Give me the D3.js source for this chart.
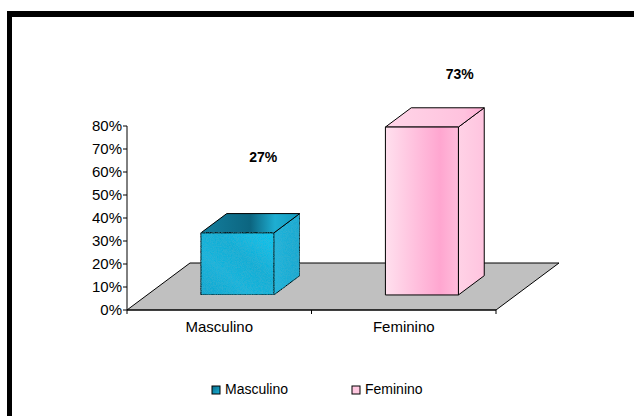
<!DOCTYPE html>
<html>
<head>
<meta charset="utf-8">
<script src="https://cdn.jsdelivr.net/npm/d3@7"></script>
<style>
  body { margin: 0; background: #fff; }
  svg { display: block; font-family: "Liberation Sans", Arial, sans-serif; }
</style>
</head>
<body>
<div id="chart"></div>
<script>
var categories = ["Masculino", "Feminino"]
var values = [0.27, 0.73]
var yTicks = [0, 0.1, 0.2, 0.3, 0.4, 0.5, 0.6, 0.7, 0.8]

var width = 634, height = 416

var svg = d3.select("#chart").append("svg")
  .attr("width", width)
  .attr("height", height)

// frame (only top and left edges show)
svg.append("rect").attr("x", 7).attr("y", 11).attr("width", width - 7).attr("height", 6).attr("fill", "#000")
svg.append("rect").attr("x", 7).attr("y", 11).attr("width", 5).attr("height", height - 11).attr("fill", "#000")

var defs = svg.append("defs")

function grad(id, x1, y1, x2, y2, stops) {
  var g = defs.append("linearGradient").attr("id", id)
    .attr("x1", x1).attr("y1", y1).attr("x2", x2).attr("y2", y2)
  stops.forEach(s => g.append("stop").attr("offset", s[0]).attr("stop-color", s[1]))
}

grad("mFront", "0%", "100%", "100%", "0%", [[0, "#18a6cf"], [0.35, "#1ab4dc"], [0.6, "#15aed6"], [1, "#10c6f0"]])
grad("mTop", "0%", "0%", "100%", "0%", [[0, "#147f9e"], [0.5, "#0c6580"], [0.75, "#1eaed2"], [1, "#1299bd"]])
grad("mSide", "0%", "0%", "100%", "0%", [[0, "#22b4dc"], [1, "#1aa8d0"]])
grad("fFront", "0%", "0%", "100%", "0%", [[0, "#ffe0ee"], [0.75, "#ffa6d0"], [1, "#ffbcdb"]])
grad("fTop", "0%", "0%", "100%", "0%", [[0, "#ffd6e8"], [0.8, "#ffc2de"], [1, "#ffa9d2"]])
grad("fSide", "0%", "0%", "100%", "0%", [[0, "#ffd2e6"], [1, "#ffc4df"]])
grad("mLeg", "0%", "0%", "100%", "100%", [[0, "#0a6a86"], [1, "#19b3da"]])

// light speckle texture for the masculino box
var noise = defs.append("filter").attr("id", "speck").attr("x", 0).attr("y", 0).attr("width", 1).attr("height", 1)
noise.append("feTurbulence").attr("type", "fractalNoise").attr("baseFrequency", 1.2).attr("numOctaves", 1).attr("result", "n")
noise.append("feColorMatrix").attr("in", "n").attr("type", "matrix")
  .attr("values", "0 0 0 0 0.05  0 0 0 0 0.45  0 0 0 0 0.6  0 0 0 -1.2 0.75").attr("result", "dots")
noise.append("feComposite").attr("in", "dots").attr("in2", "SourceGraphic").attr("operator", "in").attr("result", "d2")
noise.append("feMerge").call(m => {
  m.append("feMergeNode").attr("in", "SourceGraphic")
  m.append("feMergeNode").attr("in", "d2")
})

var x = d3.scaleBand()
  .domain(categories)
  .range([127, 496])

var y = d3.scaleLinear()
  .domain([0, 0.8])
  .range([310, 126])

// depth of the floor
var depthX = 63, depthY = -47
var front = 0.32, back = 0.73
var barW = 73
// where the value labels sit, relative to the band centre and bar top
var labelShift = [[44, -86], [56, -63]]

function pt(px, f, v) {
  return [px + f * depthX, y(v) + f * depthY]
}

function poly(points) {
  return "M" + points.map(p => p.join(",")).join("L") + "Z"
}

// floor
svg.append("path")
  .attr("d", poly([pt(x.range()[0], 0, 0), pt(x.range()[0], 1, 0), pt(x.range()[1], 1, 0), pt(x.range()[1], 0, 0)]))
  .attr("fill", "#c0c0c0")
  .attr("stroke", "#000")
  .attr("stroke-width", 1)

// y axis
var yAxis = svg.append("g")
yAxis.append("line")
  .attr("x1", 127).attr("x2", 127)
  .attr("y1", y(0.8)).attr("y2", y(0))
  .attr("stroke", "#000")
yAxis.selectAll("g")
  .data(yTicks)
  .join("g")
  .call(g => g.append("line")
    .attr("x1", 123).attr("x2", 127)
    .attr("y1", d => y(d)).attr("y2", d => y(d))
    .attr("stroke", "#000"))
  .call(g => g.append("text")
    .attr("x", 122)
    .attr("y", d => y(d))
    .attr("dy", "0.35em")
    .attr("text-anchor", "end")
    .attr("font-size", 15)
    .text(d => d3.format(".0%")(d)))

// x axis
svg.append("line")
  .attr("x1", x.range()[0]).attr("x2", x.range()[1])
  .attr("y1", y(0)).attr("y2", y(0))
  .attr("stroke", "#000")
svg.selectAll(".xtick")
  .data([x.range()[0], x.range()[0] + x.bandwidth(), x.range()[1]])
  .join("line")
  .attr("class", "xtick")
  .attr("x1", d => d).attr("x2", d => d)
  .attr("y1", y(0)).attr("y2", y(0) + 4)
  .attr("stroke", "#000")
svg.selectAll(".xlab")
  .data(categories)
  .join("text")
  .attr("class", "xlab")
  .attr("x", d => x(d) + x.bandwidth() / 2)
  .attr("y", 332)
  .attr("text-anchor", "middle")
  .attr("font-size", 15)
  .text(d => d)

// bars
var fills = [
  {front: "url(#mFront)", top: "url(#mTop)", side: "url(#mSide)", filter: "url(#speck)"},
  {front: "url(#fFront)", top: "url(#fTop)", side: "url(#fSide)", filter: null}
]

categories.forEach((c, i) => {
  var v = values[i]
  var cx = x(c) + x.bandwidth() / 2
  var x0 = cx - barW / 2 - 2, x1 = x0 + barW
  var g = svg.append("g")
  g.append("path")
    .attr("d", poly([pt(x1, front, 0), pt(x1, back, 0), pt(x1, back, v), pt(x1, front, v)]))
    .attr("fill", fills[i].side)
    .attr("filter", fills[i].filter)
    .attr("stroke", "#000")
  g.append("path")
    .attr("d", poly([pt(x0, front, v), pt(x0, back, v), pt(x1, back, v), pt(x1, front, v)]))
    .attr("fill", fills[i].top)
    .attr("stroke", "#000")
  g.append("path")
    .attr("d", poly([pt(x0, front, 0), pt(x0, front, v), pt(x1, front, v), pt(x1, front, 0)]))
    .attr("fill", fills[i].front)
    .attr("filter", fills[i].filter)
    .attr("stroke", "#000")
  g.selectAll("path").attr("stroke-linejoin", "round")
  g.append("text")
    .attr("x", cx + labelShift[i][0])
    .attr("y", y(v) + labelShift[i][1])
    .attr("text-anchor", "middle")
    .attr("font-size", 14)
    .attr("font-weight", "bold")
    .text(d3.format(".0%")(v))
})

// legend
var legX = [212, 352]
var legend = svg.selectAll(".leg")
  .data(categories)
  .join("g")
  .attr("class", "leg")
  .attr("transform", (d, i) => `translate(${legX[i]},386)`)
legend.append("rect")
  .attr("width", 8).attr("height", 8)
  .attr("fill", (d, i) => i ? "#ffc8e0" : "url(#mLeg)")
  .attr("stroke", "#000")
legend.append("text")
  .attr("x", 13)
  .attr("y", 8)
  .attr("font-size", 14)
  .text(d => d)
</script>
</body>
</html>
